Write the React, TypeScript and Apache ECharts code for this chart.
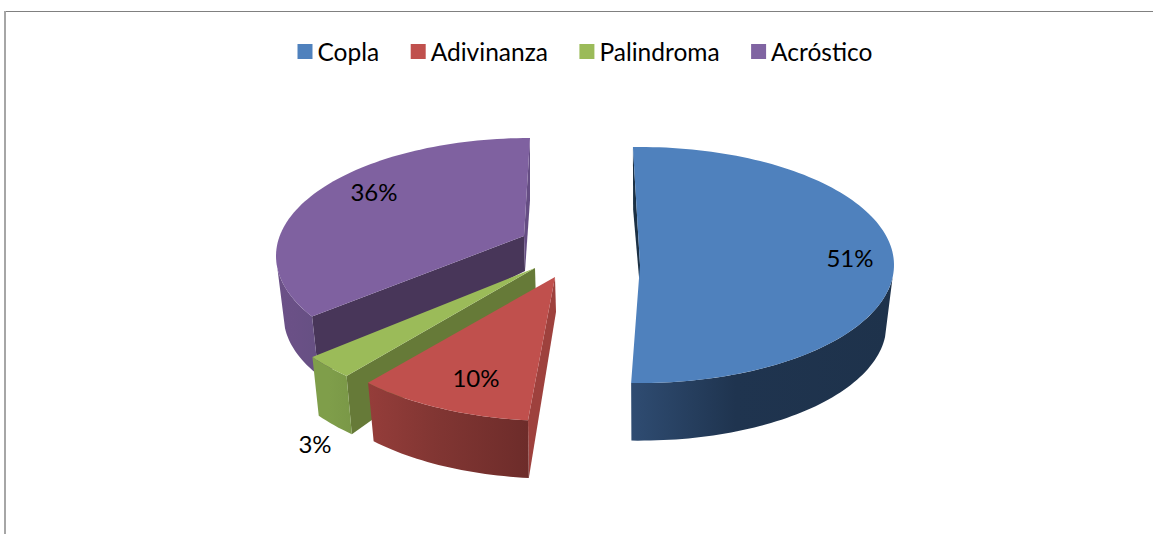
import React, { useEffect, useRef } from "react";
import * as echarts from "echarts";

const categories = ["Copla", "Adivinanza", "Palindroma", "Acróstico"];
const shares = [51, 10, 3, 36];
const legendColors = ["#4f81bd", "#c0504d", "#9bbb59", "#8064a2"];

const WIDTH = 1153;
const HEIGHT = 534;
const FONT = "Lato";
const FONT_SIZE = 24;
const LEGEND_FONT_SIZE = 24.5;

// Shared projection of the tilted pie
const PIE_X = 585;
const PIE_Y = 270;
const RX = 254;
const RY = 118;
const DEPTH = 60;
const APEX_DEPTH = 35;
const SCALE_X = 0.97;
const SCALE_Y = 0.98;
// Front of the pie: the part of the rim whose outer wall can be seen
const FRONT_FROM = 96;
const FRONT_TO = 264;

type Look = {
  off: number[]; // explosion offset from the pie centre
  apex: number[]; // tip of the wedge relative to its own ellipse centre
  warp: number[]; // perspective warp on start and end angles, in degrees
  label: number[]; // label offset from the wedge tip
  top: string;
  wall: string[];
  startWall?: string;
  endWall?: string;
  z: number;
};

const looks: Look[] = [
  {
    off: [55, -5], apex: [0, 0], warp: [-1.6, -1.6], label: [210, -8],
    top: "#4f81bd", wall: ["#2f4c72", "#1f344f", "#1e324b"],
    startWall: "#1b3044", z: 4,
  },
  {
    off: [-30, 33], apex: [0, -26], warp: [2.5, 7.8], label: [-79, 100],
    top: "#c0504d", wall: ["#953d3a", "#823633", "#6d2c2a"],
    startWall: "#9e413d", z: 3,
  },
  {
    off: [-62, 21], apex: [12, -23], warp: [4.4, 5.6], label: [-220, 175],
    top: "#9bbb59", wall: ["#7f9e4a", "#7f9e4a", "#7a9847"],
    startWall: "#667a38", z: 2,
  },
  {
    off: [-55, -14], apex: [-6, -20], warp: [8.7, 0], label: [-150, -45],
    top: "#7f61a0", wall: ["#6b5187", "#6a5086", "#665083"],
    startWall: "#483659", endWall: "#654d83", z: 1,
  },
];

const totals = shares.reduce((a, b) => a + b, 0);
const starts = shares.map((_, i) => shares.slice(0, i).reduce((a, b) => a + b, 0));

function sliceRenderer(look: Look) {
  return (_: unknown, api: any) => {
    const value = api.value(0);
    const start = api.value(1);
    const cx = PIE_X + look.off[0];
    const cy = PIE_Y + look.off[1];
    const a0 = (start / totals) * 360 + look.warp[0];
    const a1 = ((start + value) / totals) * 360 + look.warp[1];

    const rim = (deg: number) => {
      const r = (deg * Math.PI) / 180;
      return [cx + RX * Math.sin(r), cy - RY * Math.cos(r)];
    };
    const lower = (p: number[]) => [
      cx + (p[0] - cx) * SCALE_X,
      cy + DEPTH + (p[1] - cy) * SCALE_Y,
    ];
    const sweep = (from: number, to: number) => {
      const pts: number[][] = [];
      const steps = Math.max(8, Math.ceil((to - from) / 1.5));
      for (let i = 0; i <= steps; i++) pts.push(rim(from + ((to - from) * i) / steps));
      return pts;
    };

    const arc = sweep(a0, a1);
    const front = sweep(Math.max(a0, FRONT_FROM), Math.min(a1, FRONT_TO));
    const tip = [cx + look.apex[0], cy + look.apex[1]];
    const tipLow = [tip[0] + 1, tip[1] + APEX_DEPTH];

    const children: any[] = [];
    const poly = (points: number[][], fill: any) =>
      children.push({ type: "polygon", shape: { points }, style: { fill, stroke: null } });

    if (look.startWall) poly([tip, tipLow, lower(rim(a0)), rim(a0)], look.startWall);
    if (look.endWall) poly([tip, tipLow, lower(rim(a1)), rim(a1)], look.endWall);
    poly(
      [...front, ...front.map(lower).reverse()],
      new echarts.graphic.LinearGradient(0, 0, 1, 0, [
        { offset: 0, color: look.wall[0] },
        { offset: 0.4, color: look.wall[1] },
        { offset: 1, color: look.wall[2] },
      ])
    );
    poly([tip, ...arc], look.top);
    children.push({
      type: "text",
      z2: 10,
      style: {
        text: `${value}%`,
        x: tip[0] + look.label[0],
        y: tip[1] + look.label[1],
        align: "center",
        verticalAlign: "middle",
        fontFamily: FONT,
        fontSize: FONT_SIZE,
        fill: "#000000",
      },
    });
    return { type: "group", children };
  };
}

export default function App() {
  const ref = useRef<HTMLDivElement>(null);
  useEffect(() => {
    if (!ref.current) return;
    const chart = echarts.init(ref.current, null, { renderer: "svg" });
    chart.setOption({
      animation: false,
      backgroundColor: "#ffffff",
      legend: {
        left: 292.5,
        top: 34,
        icon: "rect",
        itemWidth: 15,
        itemHeight: 15,
        itemGap: 31.5,
        data: categories,
        selectedMode: false,
        textStyle: {
          fontFamily: FONT,
          fontSize: LEGEND_FONT_SIZE,
          color: "#000000",
          padding: [0, 0, 9, 0],
        },
      },
      graphic: [
        { type: "line", shape: { x1: 4, y1: 11.5, x2: WIDTH, y2: 11.5 }, style: { stroke: "#808080", lineWidth: 1 } },
        { type: "line", shape: { x1: 5, y1: 11, x2: 5, y2: HEIGHT }, style: { stroke: "#a6a6a6", lineWidth: 2 } },
      ],
      series: categories.map((name, i) => ({
        name,
        type: "custom",
        coordinateSystem: "none",
        silent: true,
        z: looks[i].z,
        itemStyle: { color: legendColors[i] },
        data: [[shares[i], starts[i]]],
        renderItem: sliceRenderer(looks[i]),
      })),
    });
    return () => chart.dispose();
  }, []);
  return <div ref={ref} style={{ position: "fixed", left: 0, top: 0, width: WIDTH, height: HEIGHT }} />;
}
